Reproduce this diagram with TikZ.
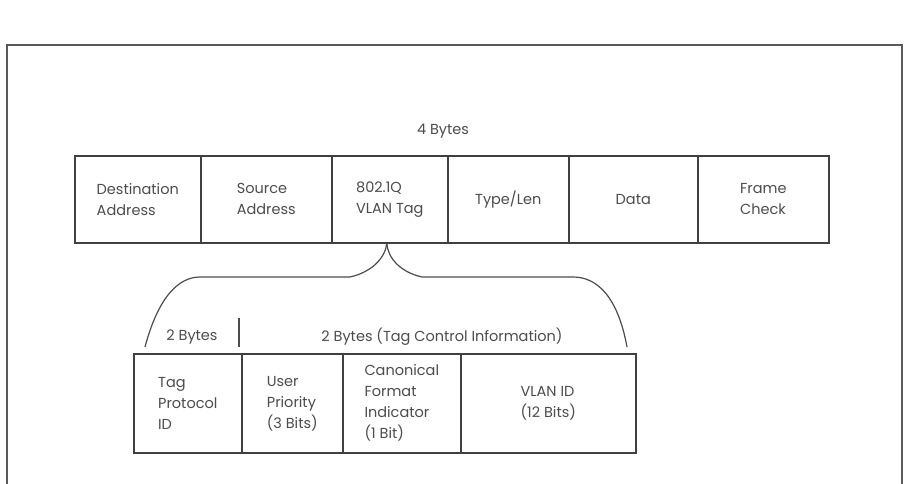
\documentclass[tikz,border=0pt]{standalone}
\usepackage{fontspec}
\setmainfont{Poppins}
\usepackage{xcolor}
\usepackage{tikz}
\usetikzlibrary{positioning,calc}

\begin{document}
\begin{tikzpicture}[x=1pt, y=-1pt,
    cell/.style={draw=black!75, line width=1.6pt, anchor=north west, inner sep=0pt,
                 align=left, text=black!70, font=\fontsize{14.5}{21}\selectfont},
    lbl/.style={text=black!70, font=\fontsize{14.5}{21}\selectfont, inner sep=0pt},
    brace/.style={draw=black!70, line width=1.2pt}]
  \useasboundingbox (0,0) rectangle (915,484);

  % outer frame, open at the bottom
  \draw[black!65, line width=2pt] (7,484) -- (7,45) -- (902,45) -- (902,484);

  % Ethernet frame with the tag
  \node[lbl] (four) at (443,131) {4 Bytes};
  \node[cell, minimum width=126pt, minimum height=87pt] (dst) at (74,155) {Destination\\Address};
  \node[cell, minimum width=131pt, minimum height=87pt] (src) at (200,155) {Source\\Address};
  \node[cell, minimum width=116pt, minimum height=87pt] (tag) at (331,155) {802.1Q\\VLAN Tag};
  \node[cell, minimum width=121pt, minimum height=87pt] (len) at (447,155) {Type/Len};
  \node[cell, minimum width=129pt, minimum height=87pt] (data) at (568,155) {Data};
  \node[cell, minimum width=131pt, minimum height=87pt] (fcs) at (697,155) {Frame\\Check};

  % fields of the tag
  \node[cell, minimum width=108pt, minimum height=99pt] (tpid) at (133,353) {Tag\\Protocol\\ID};
  \node[cell, minimum width=101pt, minimum height=99pt] (prio) at (241,353) {User\\Priority\\(3 Bits)};
  \node[cell, minimum width=118pt, minimum height=99pt] (cfi) at (342,353) {Canonical\\Format\\Indicator\\(1 Bit)};
  \node[cell, minimum width=175pt, minimum height=99pt] (vid) at (460,353) {VLAN ID\\(12 Bits)};

  \node[lbl] (two) at (192,337) {2 Bytes};
  \node[lbl] (tci) at (442,337) {2 Bytes (Tag Control Information)};
  \draw[black!70, line width=1.2pt] (239,318) -- (239,347);

  % brace from the tag down to its fields
  \coordinate (tip) at ($(tag.south)+(-3,0)$);
  \coordinate (bl) at (145,347);
  \coordinate (br) at (627,347);
  \draw[brace] (bl) .. controls (158,298) and (178,277) .. (200,277) -- (350,277)
    .. controls (372,272) and (385,258) .. (tip);
  \draw[brace] (tip) .. controls (388,258) and (400,272) .. (422,277) -- (573,277)
    .. controls (598,277) and (618,298) .. (br);
\end{tikzpicture}
\end{document}
